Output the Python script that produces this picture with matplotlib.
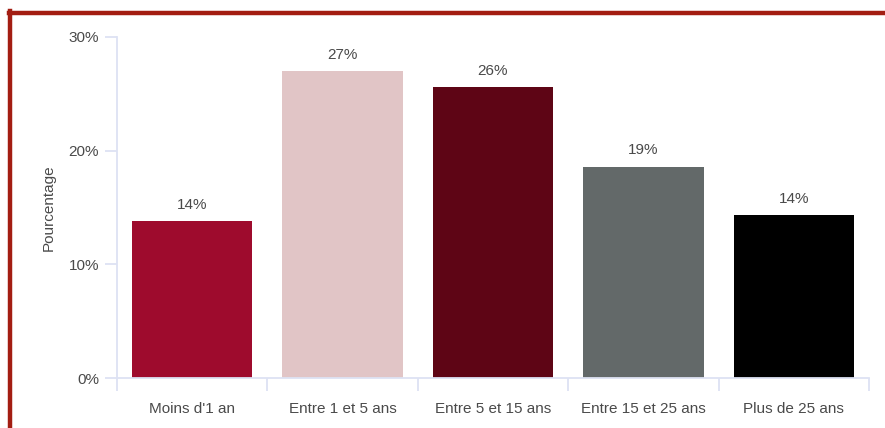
import numpy as np
import matplotlib
matplotlib.use('Agg')
import matplotlib.pyplot as plt
from matplotlib.lines import Line2D

categories = ['Moins d\'1 an', 'Entre 1 et 5 ans', 'Entre 5 et 15 ans', 'Entre 15 et 25 ans', 'Plus de 25 ans']
values = [13.8, 27.0, 25.6, 18.6, 14.3]
colors = ['#9e0b2d', '#e1c5c6', '#5e0515', '#636969', '#000000']
yticks = [0, 10, 20, 30]

plt.rcParams['font.family'] = ['Liberation Sans', 'DejaVu Sans']
fs = 11
txt_col = '#4a4a4a'

fig = plt.figure(figsize=(8.85, 4.28), dpi=100)
ax = fig.add_axes([117/885, 1-378/428, (869-117)/885, (378-37)/428])

ind = np.arange(len(categories))
bars = ax.bar(ind, values, 0.8, color=colors, edgecolor='none')
for x, v in zip(ind, values):
    ax.text(x, v + 0.8, '%d%%' % round(v), ha='center', va='bottom',
            fontsize=fs, color=txt_col)

ax.set_xlim(-0.5, len(categories) - 0.5)
ax.set_ylim(0, 30)
ax.set_yticks(yticks)
ax.set_yticklabels(['%d%%' % t for t in yticks])
ax.set_xticks(ind)
ax.set_xticklabels(categories)
ax.set_xticks(np.arange(len(categories) + 1) - 0.5, minor=True)

axis_col = '#dde2f3'
for s in ['top', 'right']:
    ax.spines[s].set_visible(False)
for s in ['left', 'bottom']:
    ax.spines[s].set_color(axis_col)
    ax.spines[s].set_linewidth(1.3)

ax.tick_params(axis='y', length=9, width=1.3, color=axis_col, labelsize=fs,
               labelcolor=txt_col, pad=4)
ax.tick_params(axis='x', which='major', length=0, labelsize=fs,
               labelcolor=txt_col, pad=17)
ax.tick_params(axis='x', which='minor', length=9, width=1.3, color=axis_col)

ax.set_ylabel('Pourcentage', fontsize=fs, color=txt_col, labelpad=9)

# red frame (top and left edges visible)
fig.add_artist(Line2D([9/885, 1.0], [1-12.5/428, 1-12.5/428], color='#a31d12',
                      linewidth=3.2, transform=fig.transFigure))
fig.add_artist(Line2D([9.5/885, 9.5/885], [0, 1-11/428], color='#a31d12',
                      linewidth=3.2, transform=fig.transFigure))

fig.savefig('out.png', dpi=100)
